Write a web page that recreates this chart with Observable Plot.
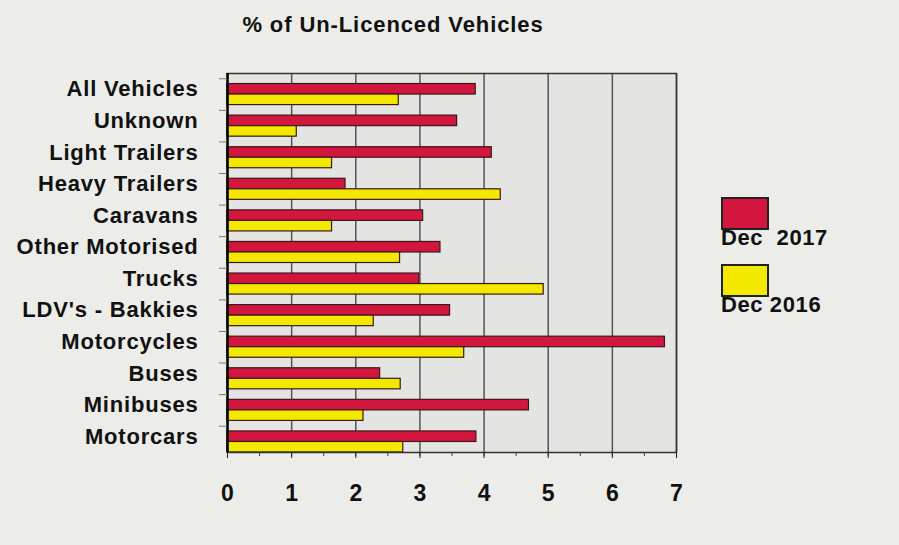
<!DOCTYPE html>
<html>
<head>
<meta charset="utf-8">
<script src="https://cdn.jsdelivr.net/npm/d3@7"></script>
<script src="https://cdn.jsdelivr.net/npm/@observablehq/plot@0.6"></script>
<style>
  html, body { margin: 0; padding: 0; background: #ecece9; }
  body { width: 899px; height: 545px; overflow: hidden; font-family: "Liberation Sans", Arial, sans-serif; }
  #wrap { position: relative; width: 899px; height: 545px; }
  #title { width: 786px; height: 50px; line-height: 50px; text-align: center; font-weight: bold; font-size: 22px; letter-spacing: 0.9px; color: #111; }
  #legend { position: absolute; left: 721px; top: 197px; font-weight: bold; font-size: 22px; letter-spacing: 0.6px; color: #111; }
  .sw { width: 48px; height: 33px; border: 2px solid #222; box-sizing: border-box; }
  .lab { margin-top: -4px; line-height: 24px; white-space: pre; }
</style>
</head>
<body>
<div id="wrap">
  <div id="title">% of Un-Licenced Vehicles</div>
  <div id="chart"></div>
  <div id="legend"></div>
</div>
<script>
const categories = ["All Vehicles","Unknown","Light Trailers","Heavy Trailers","Caravans","Other Motorised","Trucks","LDV's - Bakkies","Motorcycles","Buses","Minibuses","Motorcars"];
const dec2017 = [3.87,3.58,4.12,1.84,3.05,3.32,2.99,3.47,6.82,2.38,4.70,3.88];
const dec2016 = [2.67,1.08,1.63,4.26,1.63,2.69,4.93,2.28,3.69,2.70,2.12,2.74];
const xTicks = [0,1,2,3,4,5,6,7];
const seriesNames = ["Dec  2017","Dec 2016"];
const seriesColors = ["#d3163e","#f3e800"];

const yDomain = categories.flatMap(c => [c + "|gap", c + "|a", c + "|b"]);
const rows = categories.flatMap((c, i) => [
  {key: c + "|a", value: dec2017[i], series: seriesNames[0]},
  {key: c + "|b", value: dec2016[i], series: seriesNames[1]}
]);

const chart = Plot.plot({
  width: 899,
  height: 495,
  marginLeft: 227,
  marginRight: 223,
  marginTop: 23,
  marginBottom: 93,
  style: {background: "transparent", fontFamily: "Liberation Sans, Arial, sans-serif", color: "#111"},
  x: {domain: [0, 7], axis: null, label: null},
  y: {domain: yDomain, padding: 0, round: false, axis: null, label: null},
  color: {domain: seriesNames, range: seriesColors},
  marks: [
    Plot.frame({fill: "#e4e4e2"}),
    Plot.ruleX(xTicks.filter(d => d > 0), {stroke: "#555", strokeWidth: 1.5}),
    Plot.barX(rows, {x: "value", y: "key", fill: "series", stroke: "#3a1818", strokeWidth: 1.2}),
    Plot.frame({stroke: "#333", strokeWidth: 1.5}),
    Plot.ruleX([0], {stroke: "#000", strokeWidth: 2.5}),
    Plot.axisX(d3.range(0, 7.01, 0.5), {tickSize: 4, tickFormat: () => "", stroke: "#444", label: null}),
    Plot.axisX(xTicks, {tickSize: 6, tickPadding: 26, fontSize: 23, fontWeight: "bold", stroke: "#222", label: null}),
    Plot.axisY(categories.map(c => c + "|gap"), {tickSize: 8, tickFormat: () => "", stroke: "#777", label: null}),
    Plot.axisY(categories.map(c => c + "|a"), {tickSize: 0, tickPadding: 29, fontSize: 22, fontWeight: "bold", tickFormat: d => d.split("|")[0], label: null})
  ]
});
d3.select(chart).selectAll('g[aria-label="y-axis tick label"]').style("letter-spacing", "0.8px");
document.getElementById("chart").appendChild(chart);

const legend = document.getElementById("legend");
seriesNames.forEach((name, i) => {
  const item = document.createElement("div");
  item.style.marginBottom = i === 0 ? "14px" : "0";
  const sw = document.createElement("div");
  sw.className = "sw";
  sw.style.background = seriesColors[i];
  const lab = document.createElement("div");
  lab.className = "lab";
  lab.textContent = name;
  item.appendChild(sw);
  item.appendChild(lab);
  legend.appendChild(item);
});
</script>
</body>
</html>
